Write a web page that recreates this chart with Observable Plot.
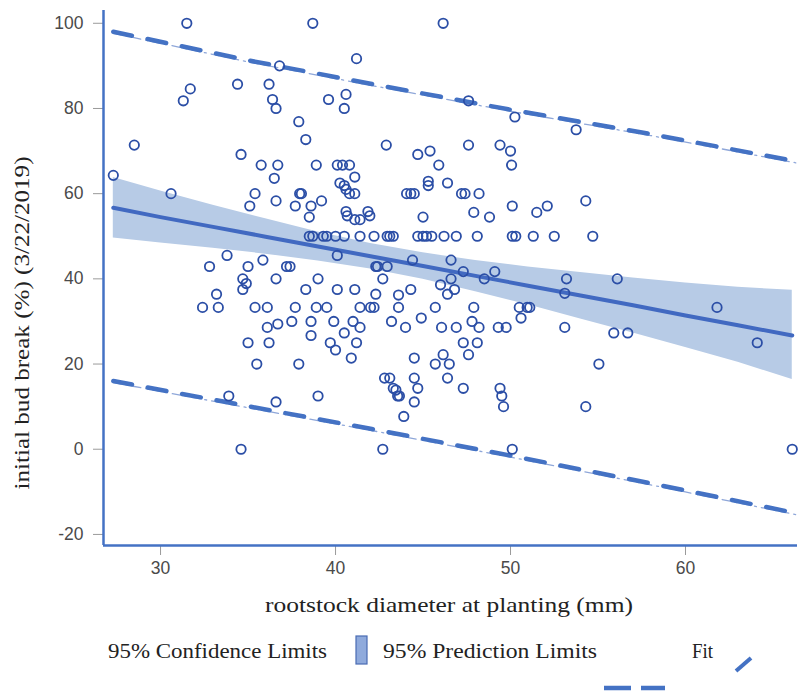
<!DOCTYPE html>
<html>
<head>
<meta charset="utf-8">
<script src="https://cdn.jsdelivr.net/npm/d3@7"></script>
<script src="https://cdn.jsdelivr.net/npm/@observablehq/plot@0.6"></script>
<style>
  body { margin: 0; background: #fff; }
  #chart { width: 799px; }
  #chart svg { display: block; }
</style>
</head>
<body>
<div id="chart"></div>
<script>
// ---------- data ----------
const diameter = [
  31.5, 38.7, 46.15, 36.8, 41.2, 31.7, 31.3, 34.4, 36.2, 36.4, 36.6, 39.6, 40.6, 40.5, 47.6, 50.25, 53.75,
  37.9, 38.3, 28.5, 34.6, 42.9, 47.6, 49.4, 44.7, 45.4, 50.0,
  35.75, 36.7, 38.9, 40.1, 40.4, 40.8, 45.9, 50.06,
  27.3, 36.5, 40.25, 40.5, 40.6, 41.1, 45.3, 45.3, 46.4,
  30.6, 35.4, 37.95, 38.05, 40.8, 41.1, 44.06, 44.3, 44.5, 47.2, 47.4, 48.2,
  35.1, 36.6, 37.7, 38.6, 39.2, 50.1, 52.1, 54.3,
  38.5, 40.6, 40.67, 41.1, 41.4, 41.85, 41.96, 45.0, 47.9, 48.8, 51.5,
  38.5, 38.7, 39.3, 39.5, 40.0, 40.5, 41.4, 42.2, 42.95, 43.1, 43.3, 44.7, 45.0, 45.2, 45.5, 46.2, 46.9, 48.1, 50.1, 50.3, 51.3, 52.5, 54.7,
  40.1, 33.8, 35.85, 44.4, 46.6,
  32.8, 35.0, 37.2, 37.4, 42.3, 42.4, 42.95,
  47.3, 49.1,
  34.7, 36.6, 39.0, 42.7, 46.6, 48.5, 53.2, 56.1,
  34.9, 46.0,
  34.7, 38.3, 40.1, 41.1, 44.3, 46.8,
  33.2, 42.3, 43.6, 46.4, 53.1,
  32.4, 33.3, 35.4, 36.1, 37.7, 38.9, 39.5, 41.4, 42.0, 42.2, 43.6, 45.7, 47.9, 50.5, 50.95, 51.1, 61.8,
  50.6, 44.9,
  37.5, 38.6, 39.9, 41.0, 43.2, 47.8,
  36.7, 36.1, 41.4, 44.0, 46.06, 46.9, 48.2, 49.3, 49.75, 53.1,
  40.5, 55.9, 56.7,
  38.6,
  35.0, 36.2, 39.7, 41.2, 47.3, 48.1, 64.1,
  40.0, 47.6, 46.15, 40.9, 44.5,
  35.5, 37.9, 45.7, 46.5, 55.05,
  42.8, 43.1, 44.5, 46.4,
  43.3, 43.45, 44.7, 47.3, 49.4,
  33.9, 39.0, 43.55, 43.65, 49.5,
  36.6, 44.5,
  49.6, 54.3,
  43.9,
  34.6, 42.7, 50.1, 66.1
];
const budBreak = [
  100, 100, 100, 90, 91.7, 84.6, 81.8, 85.7, 85.7, 82.1, 80, 82.1, 83.3, 80, 81.8, 78, 75,
  76.9, 72.7, 71.4, 69.2, 71.4, 71.4, 71.4, 69.2, 70, 70,
  66.7, 66.7, 66.7, 66.7, 66.7, 66.7, 66.7, 66.7,
  64.3, 63.6, 62.5, 61.9, 61, 63.9, 62.9, 61.9, 62.5,
  60, 60, 60, 60, 60, 60, 60, 60, 60, 60, 60, 60,
  57.1, 58.3, 57.1, 57.1, 58.3, 57.1, 57.1, 58.3,
  54.5, 55.8, 54.8, 53.9, 53.9, 55.8, 54.8, 54.5, 55.6, 54.5, 55.6,
  50, 50, 50, 50, 50, 50, 50, 50, 50, 50, 50, 50, 50, 50, 50, 50, 50, 50, 50, 50, 50, 50, 50,
  45.5, 45.5, 44.4, 44.4, 44.4,
  42.9, 42.9, 42.9, 42.9, 42.9, 42.9, 42.9,
  41.7, 41.7,
  40, 40, 40, 40, 40, 40, 40, 40,
  38.9, 38.6,
  37.5, 37.5, 37.5, 37.5, 37.5, 37.5,
  36.4, 36.4, 36.2, 36.4, 36.6,
  33.3, 33.3, 33.3, 33.3, 33.3, 33.3, 33.3, 33.3, 33.3, 33.3, 33.3, 33.3, 33.3, 33.3, 33.3, 33.3, 33.3,
  30.8, 30.8,
  30, 30, 30, 30, 30, 30,
  29.4, 28.6, 28.6, 28.6, 28.6, 28.6, 28.6, 28.6, 28.6, 28.6,
  27.3, 27.3, 27.3,
  26.7,
  25, 25, 25, 25, 25, 25, 25,
  23.3, 22.2, 22.2, 21.4, 21.4,
  20, 20, 20, 20, 20,
  16.7, 16.7, 16.7, 16.7,
  14.3, 13.9, 14.3, 14.3, 14.3,
  12.5, 12.5, 12.5, 12.5, 12.5,
  11.1, 11.1,
  10, 10,
  7.7,
  0, 0, 0, 0
];

// fit line and 95% confidence band
const bandX   = [27.3, 30, 33, 36, 39, 42, 45, 48, 51, 54, 57, 60, 63, 66.1];
const fitY    = [56.7, 54.5, 52.2, 49.9, 47.6, 45.3, 43.0, 40.7, 38.4, 36.1, 33.8, 31.4, 29.1, 26.7];
const clUpper = [63.8, 60.6, 57.3, 54.1, 51.0, 48.3, 46.1, 44.3, 42.8, 41.5, 40.2, 39.0, 38.0, 37.3];
const clLower = [49.6, 48.4, 47.2, 45.8, 44.2, 42.3, 39.9, 37.0, 33.9, 30.6, 27.3, 23.9, 20.4, 16.4];

// 95% prediction limits
const predX   = [27.3, 35, 42, 50, 58, 66.3];
const plUpper = [98.0, 91.3, 85.8, 79.7, 74.0, 67.6];
const plLower = [16.0, 10.1, 4.8, -1.5, -8.0, -15.0];

// axes
const xDomain = [26.74, 66.4];
const yDomain = [-22.6, 103];
const xTicks = [30, 40, 50, 60];
const yTicks = [-20, 0, 20, 40, 60, 80, 100];
const xLabel = "rootstock diameter at planting (mm)";
const yLabel = "initial bud break (%) (3/22/2019)";
const legendLabels = ["95% Confidence Limits", "95% Prediction Limits", "Fit"];

// ---------- build ----------
const points = diameter.map((d, i) => ({x: d, y: budBreak[i]}));
const band = bandX.map((x, i) => ({x, fit: fitY[i], lo: clLower[i], hi: clUpper[i]}));
const pred = predX.map((x, i) => ({x, lo: plLower[i], hi: plUpper[i]}));

const blue = "#4472c4";
const plot = Plot.plot({
  width: 799,
  height: 620,
  marginLeft: 103,
  marginRight: 2,
  marginTop: 10,
  marginBottom: 75,
  style: {
    fontFamily: "'Liberation Sans', Arial, sans-serif",
    fontSize: "17.5px",
    color: "#4a4a4a",
    background: "#fff",
    overflow: "visible"
  },
  x: {domain: xDomain, ticks: xTicks, tickSize: 10, tickPadding: 6, label: null, tickFormat: d => String(d)},
  y: {domain: yDomain, ticks: yTicks, tickSize: 10, tickPadding: 10, label: null, tickFormat: d => String(d)},
  marks: [
    Plot.areaY(band, {x: "x", y1: "lo", y2: "hi", fill: "#b7cbe6"}),
    Plot.line(band, {x: "x", y: "fit", stroke: "#4169c1", strokeWidth: 4}),
    Plot.line(pred, {x: "x", y: "hi", stroke: "#8fa7d9", strokeWidth: 1.3, strokeDasharray: "8,5,2,5", dy: 1.5}),
    Plot.line(pred, {x: "x", y: "lo", stroke: "#8fa7d9", strokeWidth: 1.3, strokeDasharray: "8,5,2,5", dy: 1.5}),
    Plot.line(pred, {x: "x", y: "hi", stroke: blue, strokeWidth: 4.5, strokeDasharray: "19,16"}),
    Plot.line(pred, {x: "x", y: "lo", stroke: blue, strokeWidth: 4.5, strokeDasharray: "19,16"}),
    Plot.dot(points, {x: "x", y: "y", r: 4.7, stroke: "#2b4ea6", strokeWidth: 1.8, fill: "none"}),
    Plot.ruleX([xDomain[0]], {stroke: blue, strokeWidth: 2.5}),
    Plot.ruleY([yDomain[0]], {stroke: blue, strokeWidth: 2.5})
  ]
});

const svg = d3.select(plot);
svg.selectAll("[aria-label^='x-axis'] line, [aria-label^='y-axis'] line, [aria-label^='x-axis'] path, [aria-label^='y-axis'] path")
  .attr("stroke", "#9a9a9a");

svg.append("text")
  .attr("x", 449).attr("y", 612)
  .attr("text-anchor", "middle")
  .attr("font-family", "'Liberation Serif', 'Times New Roman', serif")
  .attr("font-size", 22)
  .attr("fill", "#222")
  .attr("textLength", 368).attr("lengthAdjust", "spacingAndGlyphs")
  .text(xLabel);

svg.append("text")
  .attr("transform", "translate(29,323) rotate(-90)")
  .attr("text-anchor", "middle")
  .attr("font-family", "'Liberation Serif', 'Times New Roman', serif")
  .attr("font-size", 22)
  .attr("fill", "#222")
  .attr("textLength", 333).attr("lengthAdjust", "spacingAndGlyphs")
  .text(yLabel);

document.getElementById("chart").appendChild(plot);

// ---------- legend below ----------
const leg = d3.select("#chart").append("svg")
  .attr("width", 799).attr("height", 74)
  .style("font-family", "'Liberation Serif', 'Times New Roman', serif");

const legText = [
  {t: legendLabels[0], x: 108, w: 219},
  {t: legendLabels[1], x: 383, w: 214},
  {t: legendLabels[2], x: 692, w: 21}
];
leg.selectAll("text").data(legText).join("text")
  .attr("x", d => d.x).attr("y", 38)
  .attr("font-size", 20.5)
  .attr("fill", "#222")
  .attr("textLength", d => d.w).attr("lengthAdjust", "spacingAndGlyphs")
  .text(d => d.t);

leg.append("rect")
  .attr("x", 356).attr("y", 16).attr("width", 11).attr("height", 28)
  .attr("fill", "#8faadc").attr("stroke", "#4a6cb3").attr("stroke-width", 1.2);

leg.append("line")
  .attr("x1", 736).attr("y1", 51).attr("x2", 751).attr("y2", 38)
  .attr("stroke", blue).attr("stroke-width", 4);

leg.append("line")
  .attr("x1", 604).attr("y1", 68).attr("x2", 665).attr("y2", 68)
  .attr("stroke", blue).attr("stroke-width", 4.5)
  .attr("stroke-dasharray", "27,10");
</script>
</body>
</html>
